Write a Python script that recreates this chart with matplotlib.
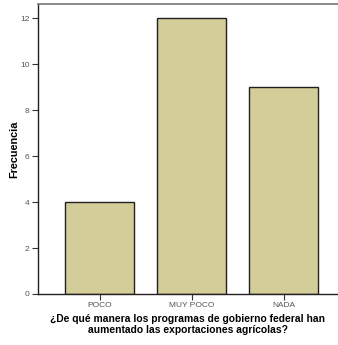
import matplotlib
matplotlib.use("Agg")
import matplotlib.pyplot as plt

plt.rcParams["font.family"] = ["Liberation Sans", "DejaVu Sans"]

categories = ["POCO", "MUY POCO", "NADA"]
frecuencia = [4, 12, 9]
yticks = [0, 2, 4, 6, 8, 10, 12]

fig = plt.figure(figsize=(3.38, 3.45), dpi=100)
ax = fig.add_axes([38 / 338, 51 / 345, 300 / 338, 290 / 345])

x = list(range(len(categories)))
ax.bar(x, frecuencia, width=0.75, color="#D3CE99", edgecolor="#231F20", linewidth=1.0)

ax.set_xlim(-0.668, 2.59)
ax.set_ylim(0, 12.61)
ax.set_xticks(x)
ax.set_xticklabels(categories)
ax.set_yticks(yticks)
ax.tick_params(axis="both", labelsize=6, labelcolor="#555555", length=4,
               width=0.8, color="#333333", pad=2)

for s in ["left", "bottom"]:
    ax.spines[s].set_color("#231F20")
    ax.spines[s].set_linewidth(1.0)
ax.spines["top"].set_color("#777777")
ax.spines["top"].set_linewidth(1.2)
ax.spines["right"].set_visible(False)

ax.set_ylabel("Frecuencia", fontsize=7.8, fontweight="bold", labelpad=1)
ax.set_xlabel("¿De qué manera los programas de gobierno federal han\naumentado las exportaciones agrícolas?",
              fontsize=7.4, fontweight="bold", labelpad=3, linespacing=1.2)

fig.savefig("out.png", dpi=100)
